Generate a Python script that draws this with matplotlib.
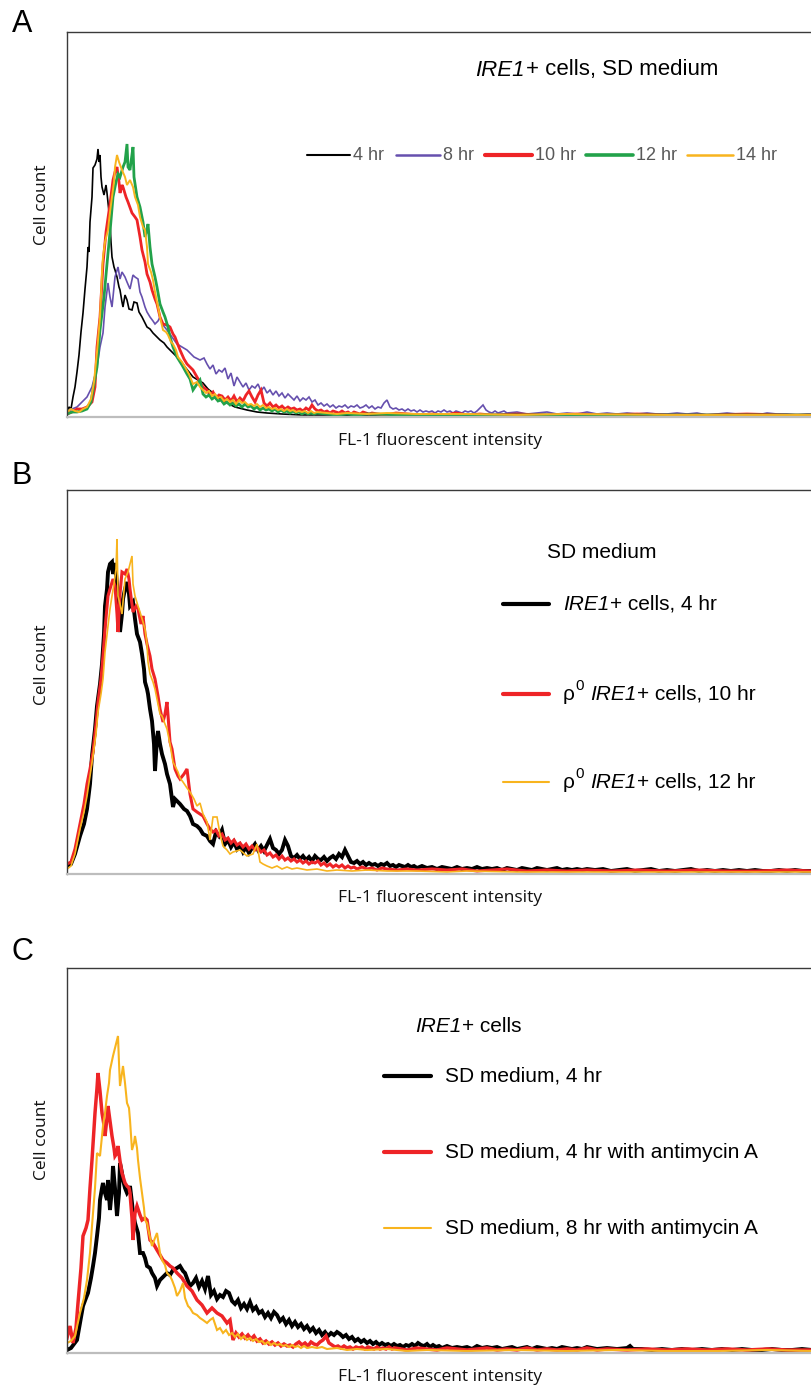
import matplotlib
matplotlib.use("Agg")
import matplotlib.pyplot as plt
from matplotlib.lines import Line2D

plt.rcParams["font.family"] = ["Liberation Sans", "DejaVu Sans"]

# ─────────────────────────────────────────────
# DATA  (channel, cell count)
# ─────────────────────────────────────────────

A_4HR = [(0,6),(2,10),(4,8),(6,20),(8,30),(10,45),(12,62),(14,85),(16,104),(18,128),(20,150),
         (21,170),(22,165),(23,195),(25,220),(26,249),(28,252),(30,258),(31,268),(32,255),(33,262),
         (34,240),(35,230),(37,222),(39,232),(40,224),(42,205),(43,194),(44,175),(45,160),(47,150),
         (48,147),(50,140),(52,130),(53,127),(55,115),(56,110),(58,122),(60,117),(62,108),(65,107),
         (67,115),(70,114),(72,105),(75,100),(77,96),(80,90),(83,88),(86,84),(90,80),(93,77),(97,74),
         (100,70),(103,67),(108,62),(113,57),(118,50),(122,45),(126,40),(131,37),(136,34),(141,28),
         (146,24),(153,18),(160,14),(168,10),(176,8),(180,7),(190,5),(200,4),(215,3),(235,2),(260,2),
         (300,1),(400,1),(745,1)]
A_8HR = [(0,5),(5,8),(10,10),(15,15),(20,20),(25,30),(30,50),(33,70),(36,84),(38,110),(41,134),
         (43,120),(45,110),(47,130),(48,140),(51,150),(53,138),(55,145),(58,140),(60,135),(63,128),
         (66,142),(68,140),(71,138),(73,125),(75,120),(78,110),(80,105),(83,100),(86,96),(88,93),
         (91,96),(93,100),(96,92),(100,87),(105,80),(110,73),(115,70),(120,67),(127,60),(133,57),
         (137,59),(140,53),(143,48),(146,52),(149,43),(152,47),(155,45),(158,49),(161,38),(164,44),
         (167,31),(170,40),(173,35),(176,30),(179,34),(182,27),(185,31),(188,29),(191,33),(194,26),
         (197,30),(200,24),(203,27),(206,22),(209,26),(212,21),(215,24),(218,19),(221,23),(224,20),
         (227,17),(230,21),(233,16),(236,19),(239,17),(242,20),(245,15),(248,17),(251,12),(254,14),
         (257,11),(260,13),(263,10),(266,12),(269,9),(272,11),(275,10),(278,12),(281,9),(284,11),
         (287,10),(290,12),(293,9),(296,10),(299,12),(302,9),(305,11),(308,8),(311,10),(314,9),
         (317,14),(320,17),(323,10),(326,8),(329,9),(332,7),(335,8),(338,6),(341,8),(344,6),(347,7),
         (350,5),(353,7),(356,5),(359,6),(362,5),(365,6),(368,4),(371,6),(374,5),(377,7),(380,5),
         (383,6),(386,4),(389,6),(392,5),(395,4),(398,6),(401,5),(404,6),(407,4),(410,6),(413,9),
         (416,12),(419,7),(422,5),(425,4),(428,6),(431,4),(434,5),(437,6),(440,4),(450,5),(460,3),
         (470,4),(480,5),(490,3),(500,4),(510,3),(520,5),(530,3),(540,4),(550,3),(560,4),(570,3),
         (580,4),(590,3),(600,3),(610,4),(620,3),(630,4),(640,2),(650,3),(660,4),(670,3),(680,3),
         (690,2),(700,4),(710,3),(720,3),(730,2),(740,3),(745,3)]
A_10HR = [(0,3),(5,5),(10,8),(15,8),(20,10),(25,15),(28,30),(30,70),(33,100),(36,153),(39,185),
          (43,213),(46,237),(48,245),(50,250),(52,235),(53,224),(55,232),(56,230),(59,220),(61,215),
          (65,204),(68,200),(70,197),(73,180),(75,167),(78,155),(80,143),(83,135),(85,127),(88,118),
          (90,113),(93,100),(96,93),(100,92),(103,90),(106,83),(108,80),(111,72),(113,67),(117,58),
          (120,53),(123,50),(126,47),(130,40),(133,35),(136,30),(140,27),(143,22),(146,25),(149,19),
          (152,22),(155,21),(158,17),(161,20),(164,16),(167,21),(170,15),(173,19),(176,16),(179,22),
          (182,26),(185,20),(188,15),(191,22),(194,27),(197,14),(200,11),(203,14),(206,10),(209,12),
          (212,9),(215,11),(218,8),(221,10),(224,8),(227,9),(230,7),(233,8),(236,6),(239,9),(242,7),
          (245,12),(248,8),(251,6),(254,7),(257,5),(260,6),(263,4),(266,6),(269,5),(272,4),(275,6),
          (278,4),(281,5),(284,3),(287,5),(290,4),(293,3),(296,5),(299,4),(302,3),(305,4),(317,2),
          (329,4),(341,3),(353,2),(365,3),(377,2),(389,4),(401,2),(413,3),(425,2),(450,3),(480,2),
          (510,3),(540,2),(570,3),(600,2),(640,2),(680,3),(720,2),(745,2)]
A_12HR = [(0,3),(5,5),(10,5),(15,6),(20,8),(24,15),(26,27),(30,50),(33,87),(37,120),(40,153),
          (43,185),(46,220),(49,235),(51,243),(53,240),(56,250),(58,255),(60,273),(61,250),(63,247),
          (64,255),(66,270),(67,240),(70,220),(73,210),(76,195),(78,180),(80,188),(81,193),(83,170),
          (85,153),(88,140),(90,130),(93,113),(96,105),(98,100),(101,90),(103,80),(106,70),(110,60),
          (115,52),(120,43),(123,38),(126,27),(130,33),(133,37),(136,23),(139,20),(142,22),(145,18),
          (148,20),(151,16),(154,17),(157,13),(160,15),(163,12),(166,14),(169,11),(172,13),(175,10),
          (178,13),(181,10),(184,11),(187,8),(190,10),(193,7),(196,9),(199,7),(202,8),(205,6),
          (208,8),(211,5),(214,7),(217,5),(220,6),(223,4),(226,6),(229,4),(232,5),(235,3),(238,5),
          (241,3),(244,4),(247,3),(250,4),(260,3),(270,2),(280,3),(290,2),(300,3),(350,2),(400,2),
          (500,2),(745,2)]
A_14HR = [(0,5),(4,8),(8,6),(12,5),(16,8),(20,10),(24,18),(27,35),(30,65),(33,100),(35,145),
          (36,160),(38,175),(41,187),(43,205),(45,220),(47,235),(48,250),(50,262),(52,255),(55,247),
          (58,240),(60,232),(63,237),(66,230),(68,220),(71,212),(73,200),(76,190),(78,187),(80,170),
          (81,153),(84,145),(86,137),(88,125),(91,110),(93,100),(96,87),(99,85),(101,82),(104,75),
          (106,73),(109,67),(111,60),(115,55),(118,50),(122,43),(126,33),(130,35),(133,30),(136,27),
          (139,24),(142,26),(145,21),(148,23),(151,19),(154,20),(157,16),(160,18),(163,15),(166,17),
          (169,13),(172,17),(175,14),(178,15),(181,12),(184,13),(187,11),(190,13),(193,10),(196,12),
          (199,9),(202,10),(205,8),(208,9),(211,7),(214,8),(217,6),(220,8),(223,6),(226,7),(229,5),
          (232,6),(235,5),(238,6),(241,4),(244,6),(247,4),(250,5),(260,4),(270,3),(280,4),(300,3),
          (320,4),(350,3),(400,3),(450,2),(500,3),(600,2),(745,2)]

B_IRE1_4HR = [(0,8),(4,10),(8,20),(13,38),(17,50),(20,65),(23,90),(25,118),(28,145),(30,168),
              (33,190),(35,210),(37,240),(38,268),(40,285),(41,302),(43,310),(45,312),(46,300),
              (48,311),(50,290),(52,260),(53,242),(55,260),(56,275),(58,285),(60,292),(62,280),
              (63,268),(66,272),(68,255),(70,240),(73,232),(75,220),(77,205),(78,192),(80,185),
              (81,180),(83,165),(85,153),(87,130),(88,103),(90,135),(91,143),(93,130),(95,120),
              (98,110),(100,100),(103,90),(106,67),(108,75),(111,72),(113,70),(117,65),(120,63),
              (123,58),(126,50),(130,48),(133,45),(136,40),(140,38),(143,33),(146,30),(149,42),
              (152,38),(155,44),(158,30),(161,34),(164,27),(167,32),(170,25),(173,29),(176,22),
              (179,27),(182,21),(185,26),(188,30),(191,24),(194,28),(197,23),(200,29),(203,35),
              (206,26),(209,24),(212,20),(215,24),(218,34),(221,28),(224,18),(227,16),(230,19),
              (233,15),(236,18),(239,14),(242,17),(245,13),(248,18),(251,15),(254,14),(257,17),
              (260,13),(263,16),(266,18),(269,15),(272,20),(275,17),(278,24),(281,18),(284,12),
              (287,11),(290,13),(293,10),(296,12),(299,9),(302,11),(305,9),(308,10),(311,8),
              (314,10),(317,9),(320,11),(323,8),(326,9),(329,7),(332,9),(335,8),(338,7),(341,9),
              (344,7),(347,8),(350,6),(355,8),(360,6),(365,7),(370,5),(375,7),(380,6),(385,5),
              (390,7),(395,5),(400,6),(405,5),(410,7),(415,5),(420,6),(425,5),(430,6),(435,4),
              (440,6),(445,5),(450,4),(455,6),(460,5),(465,4),(470,6),(475,5),(480,4),(485,5),
              (490,6),(495,4),(500,5),(505,4),(510,5),(515,4),(520,5),(528,4),(536,5),(544,3),
              (552,4),(560,5),(568,3),(576,4),(584,5),(592,3),(600,4),(608,3),(616,4),(624,5),
              (632,3),(640,4),(648,3),(656,4),(664,3),(672,4),(680,3),(688,4),(696,3),(704,3),
              (712,4),(720,3),(728,4),(736,3),(745,3)]
B_RHO0_10HR = [(0,10),(4,12),(8,25),(13,50),(17,70),(20,90),(23,105),(26,122),(29,150),(31,172),
               (34,195),(36,218),(38,245),(41,278),(43,285),(46,295),(48,288),(50,260),(51,242),
               (53,280),(55,302),(58,300),(60,305),(62,295),(63,285),(65,270),(66,262),(69,268),
               (71,265),(74,250),(76,258),(78,240),(80,230),(83,218),(85,205),(88,195),(91,178),
               (93,165),(96,152),(98,160),(100,172),(103,132),(105,125),(108,105),(111,98),(113,95),
               (117,100),(120,105),(123,80),(126,65),(130,62),(136,58),(140,50),(143,45),(146,42),
               (149,44),(152,38),(155,40),(158,34),(161,36),(164,31),(167,34),(170,29),(173,31),
               (176,27),(179,30),(182,25),(185,28),(188,24),(191,26),(194,22),(197,24),(200,19),
               (203,21),(206,17),(209,19),(212,15),(215,18),(218,14),(221,16),(224,13),(227,15),
               (230,12),(233,14),(236,11),(239,13),(242,10),(245,12),(248,11),(251,13),(254,9),
               (257,11),(260,8),(263,10),(266,7),(269,9),(272,7),(275,9),(278,6),(281,8),(284,6),
               (287,7),(290,5),(295,7),(300,5),(305,6),(310,4),(315,6),(320,5),(330,4),(340,5),
               (350,4),(365,5),(380,4),(395,5),(410,3),(425,4),(440,5),(460,3),(480,4),(500,3),
               (520,4),(545,3),(570,4),(600,3),(630,4),(660,3),(690,3),(720,4),(745,3)]
B_RHO0_12HR = [(0,5),(4,8),(8,20),(13,45),(17,62),(20,78),(23,98),(26,118),(29,140),(31,162),
               (34,180),(36,195),(38,222),(41,248),(43,265),(45,278),(47,290),(49,305),(50,335),
               (51,278),(53,270),(55,260),(58,295),(61,302),(63,310),(65,318),(66,290),(68,278),
               (71,268),(73,262),(76,252),(78,245),(80,230),(81,212),(83,200),(86,192),(88,185),
               (90,175),(93,160),(95,158),(98,150),(100,145),(103,130),(106,112),(108,108),(111,102),
               (113,96),(116,92),(120,86),(123,82),(127,75),(130,68),(133,71),(136,60),(140,52),
               (143,34),(146,57),(150,57),(153,40),(156,28),(160,24),(163,20),(166,22),(173,24),
               (180,18),(186,20),(190,30),(193,12),(196,10),(200,8),(205,6),(210,8),(215,5),(220,7),
               (225,5),(230,6),(240,4),(250,5),(260,3),(270,4),(285,3),(300,4),(320,3),(350,3),
               (380,2),(400,3),(450,2),(500,2),(600,2),(745,2)]

C_SD_4HR = [(0,3),(4,5),(10,13),(13,30),(16,47),(19,55),(21,60),(24,75),(26,87),(28,100),(30,117),
            (32,135),(33,153),(35,165),(36,170),(38,160),(40,153),(41,173),(43,143),(45,165),
            (46,187),(48,165),(50,137),(52,160),(53,190),(55,180),(56,173),(58,165),(60,160),
            (62,163),(63,167),(65,150),(66,140),(68,130),(71,120),(73,100),(76,100),(78,95),(80,87),
            (83,85),(85,80),(88,75),(90,67),(93,73),(96,76),(100,80),(103,78),(106,83),(110,85),
            (113,87),(116,82),(118,80),(121,72),(123,67),(126,70),(129,75),(132,66),(135,72),
            (138,64),(141,77),(144,58),(147,62),(150,54),(153,58),(156,56),(159,62),(162,60),
            (165,52),(168,49),(171,53),(174,45),(177,49),(180,44),(183,51),(186,43),(189,46),
            (192,40),(195,42),(198,36),(201,40),(204,35),(207,41),(210,38),(213,32),(216,35),
            (219,29),(222,33),(225,27),(228,31),(231,26),(234,29),(237,24),(240,27),(243,22),
            (246,25),(249,20),(252,23),(255,18),(258,21),(261,17),(264,20),(267,18),(270,21),
            (273,19),(276,16),(279,18),(282,14),(285,16),(288,12),(291,14),(294,11),(297,13),
            (300,10),(303,12),(306,9),(309,11),(312,8),(315,10),(318,8),(321,9),(324,7),(327,9),
            (330,7),(333,8),(336,6),(339,8),(342,7),(345,9),(348,7),(351,10),(354,8),(357,7),
            (360,9),(363,6),(366,8),(369,6),(372,7),(375,5),(380,7),(385,5),(390,6),(395,5),
            (400,6),(405,4),(410,7),(415,5),(420,6),(425,5),(430,6),(435,4),(440,5),(445,6),
            (450,4),(455,5),(460,6),(465,4),(470,6),(475,5),(480,4),(485,5),(490,4),(495,6),
            (500,5),(505,4),(510,5),(515,4),(520,6),(530,4),(540,5),(550,4),(560,5),(563,7),
            (566,4),(575,4),(585,3),(595,4),(605,3),(615,4),(625,3),(635,4),(645,3),(655,4),
            (665,3),(675,4),(685,3),(695,3),(705,4),(715,3),(725,3),(735,4),(745,3)]
C_ANTI_4HR = [(0,15),(3,27),(6,10),(9,25),(11,50),(14,85),(16,117),(19,125),(21,133),(23,165),
              (25,193),(28,240),(30,265),(31,280),(33,262),(35,240),(37,228),(38,217),(40,235),
              (41,247),(43,232),(45,217),(47,205),(48,197),(50,200),(51,207),(53,192),(55,180),
              (58,170),(60,167),(62,165),(63,160),(65,135),(66,113),(68,140),(70,147),(73,138),
              (75,133),(78,135),(80,133),(82,120),(83,113),(86,110),(90,103),(93,98),(96,93),
              (100,90),(103,87),(106,85),(110,80),(115,75),(120,67),(125,62),(130,53),(135,48),
              (140,40),(145,45),(150,40),(155,37),(160,30),(163,33),(166,13),(169,20),(172,16),
              (175,19),(178,15),(181,18),(184,14),(187,17),(190,12),(193,14),(196,10),(199,12),
              (202,9),(205,11),(208,8),(211,10),(214,7),(217,9),(220,7),(223,8),(226,6),(229,9),
              (232,11),(235,8),(238,10),(241,7),(244,11),(247,9),(250,8),(253,11),(256,13),(259,17),
              (262,10),(265,8),(268,6),(271,7),(274,5),(277,7),(280,5),(283,6),(286,4),(289,6),
              (292,5),(295,6),(298,4),(301,6),(304,5),(307,4),(310,6),(313,4),(316,5),(319,4),
              (322,6),(325,4),(328,5),(340,3),(350,5),(360,4),(370,3),(380,5),(390,4),(400,3),
              (410,4),(420,5),(430,3),(440,4),(450,3),(460,5),(470,3),(480,4),(490,3),(500,4),
              (510,3),(520,5),(530,3),(540,4),(560,3),(580,4),(600,3),(620,4),(640,3),(660,4),
              (680,3),(700,4),(720,3),(745,3)]
C_ANTI_8HR = [(0,10),(4,12),(8,17),(13,40),(17,55),(20,73),(23,100),(25,127),(28,165),(30,200),
              (33,197),(36,227),(38,240),(40,257),(42,270),(43,283),(46,297),(48,305),(50,313),
              (51,317),(52,290),(53,267),(55,280),(56,287),(58,270),(60,250),(62,245),(63,233),
              (65,203),(67,210),(68,217),(70,205),(71,193),(73,175),(75,160),(77,145),(78,133),
              (80,130),(82,120),(85,107),(88,115),(90,120),(93,100),(95,93),(98,88),(100,80),
              (103,77),(105,73),(108,65),(110,57),(113,62),(116,70),(118,55),(121,47),(123,45),
              (126,40),(130,38),(133,35),(136,33),(140,30),(143,33),(146,35),(150,23),(153,25),
              (156,20),(159,23),(162,18),(165,20),(168,16),(171,19),(174,14),(177,17),(180,13),
              (183,15),(186,12),(189,14),(192,11),(195,12),(198,9),(201,11),(204,8),(207,10),
              (210,8),(213,9),(216,7),(219,8),(222,6),(225,8),(228,6),(231,7),(234,5),(237,7),
              (240,5),(245,6),(250,5),(255,6),(260,4),(270,5),(280,3),(290,4),(300,3),(320,4),
              (340,2),(360,3),(400,2),(450,3),(500,2),(550,3),(600,2),(650,2),(700,3),(745,2)]

A_TITLE = [("IRE1", "italic"), ("+ cells, SD medium", "normal")]
A_LABELS = ["4 hr", "8 hr", "10 hr", "12 hr", "14 hr"]
B_TITLE = "SD medium"
B_LABELS = [[("IRE1", "italic"), ("+ cells, 4 hr", "normal")],
            [("ρ", "normal"), ("0", "sup"), ("IRE1", "italic"), ("+ cells, 10 hr", "normal")],
            [("ρ", "normal"), ("0", "sup"), ("IRE1", "italic"), ("+ cells, 12 hr", "normal")]]
C_TITLE = [("IRE1", "italic"), ("+ cells", "normal")]
C_LABELS = ["SD medium, 4 hr",
            "SD medium, 4 hr with antimycin A",
            "SD medium, 8 hr with antimycin A"]

BLACK  = "#000000"
PURPLE = "#6650AE"
RED    = "#EE2427"
GREEN  = "#22A24A"
YELLOW = "#F8B41E"

W, H = 812, 1387


def fx(x):
    return x / W


def fy(y):
    return 1 - y / H


def make_axes(fig, top, bottom):
    ax = fig.add_axes([fx(67), fy(bottom), 1 - fx(67), (bottom - top) / H])
    ax.set_xlim(0, 745)
    ax.set_ylim(0, bottom - top)
    ax.set_xticks([])
    ax.set_yticks([])
    ax.spines["right"].set_visible(False)
    for s in ("left", "top"):
        ax.spines[s].set_color("#3a3a3a")
        ax.spines[s].set_linewidth(1.0)
    ax.spines["bottom"].set_color("#bdbdbd")
    ax.spines["bottom"].set_linewidth(1.6)
    fig.text(fx(440), fy(bottom + 24), "FL-1 fluorescent intensity", fontsize=12.5,
             family="Open Sans", ha="center", va="center", color="#111111")
    return ax


def draw(ax, pts, color, lw):
    xs = [p[0] for p in pts]
    ys = [p[1] for p in pts]
    ax.plot(xs, ys, color=color, lw=lw, solid_joinstyle="miter")


def seg(fig, x0, x1, y, color, lw):
    fig.add_artist(Line2D([fx(x0), fx(x1)], [fy(y), fy(y)], color=color, lw=lw,
                          transform=fig.transFigure, solid_capstyle="round"))


def rich(fig, x, y, parts, size):
    # lay out pieces one after another (italic gene names, superscripts)
    rend = fig.canvas.get_renderer()
    cur = x
    for txt, kind in parts:
        if kind == "sup":
            t = fig.text(fx(cur + 1), fy(y - 8), txt, fontsize=size * 0.72, va="center")
        else:
            t = fig.text(fx(cur), fy(y), txt, fontsize=size, va="center",
                         style="italic" if kind == "italic" else "normal")
        cur = t.get_window_extent(rend).x1
        if kind == "sup":
            cur += size * 0.36
        elif kind == "italic":
            cur += 1


fig = plt.figure(figsize=(W / 100, H / 100), dpi=100)

# ── Panel A ──────────────────────────────────
axA = make_axes(fig, 32, 417)
for pts, c, lw in zip([A_4HR, A_8HR, A_10HR, A_12HR, A_14HR],
                      [BLACK, PURPLE, RED, GREEN, YELLOW],
                      [1.2, 1.2, 2.0, 2.0, 1.4]):
    draw(axA, pts, c, lw)
rich(fig, 475, 70, A_TITLE, 16)
for (x0, x1, xt), lab, c, lw in zip([(307, 350, 353), (396, 440, 443), (485, 532, 535),
                                     (586, 633, 636), (687, 733, 736)],
                                    A_LABELS, [BLACK, PURPLE, RED, GREEN, YELLOW],
                                    [1.5, 1.8, 3.0, 2.6, 1.8]):
    seg(fig, x0, x1, 155, c, lw)
    fig.text(fx(xt), fy(155), lab, fontsize=13, color="#595959", va="center")

# ── Panel B ──────────────────────────────────
axB = make_axes(fig, 490, 874)
for pts, c, lw in zip([B_IRE1_4HR, B_RHO0_10HR, B_RHO0_12HR],
                      [BLACK, RED, YELLOW], [2.8, 2.2, 1.2]):
    draw(axB, pts, c, lw)
fig.text(fx(547), fy(553), B_TITLE, fontsize=15, va="center")
for y, lab, c, lw in zip([604, 694, 782], B_LABELS, [BLACK, RED, YELLOW], [3.0, 3.0, 1.5]):
    seg(fig, 503, 549, y, c, lw)
    rich(fig, 563, y, lab, 15)

# ── Panel C ──────────────────────────────────
axC = make_axes(fig, 968, 1353)
for pts, c, lw in zip([C_SD_4HR, C_ANTI_4HR, C_ANTI_8HR],
                      [BLACK, RED, YELLOW], [2.8, 2.5, 1.5]):
    draw(axC, pts, c, lw)
rich(fig, 415, 1027, C_TITLE, 15)
for y, lab, c, lw in zip([1076, 1152, 1228], C_LABELS, [BLACK, RED, YELLOW], [3.0, 3.0, 1.5]):
    seg(fig, 384, 431, y, c, lw)
    fig.text(fx(445), fy(y), lab, fontsize=15, va="center")

# ── shared labels ───────────────────────────
for letter, ly, cy in [("A", 24, 205), ("B", 476, 665), ("C", 952, 1140)]:
    fig.text(fx(22), fy(ly), letter, fontsize=22, ha="center", va="center")
    fig.text(fx(42), fy(cy), "Cell count", fontsize=12.5, family="Open Sans",
             rotation=90, ha="center", va="center", color="#111111")

fig.savefig("out.png", dpi=100)
